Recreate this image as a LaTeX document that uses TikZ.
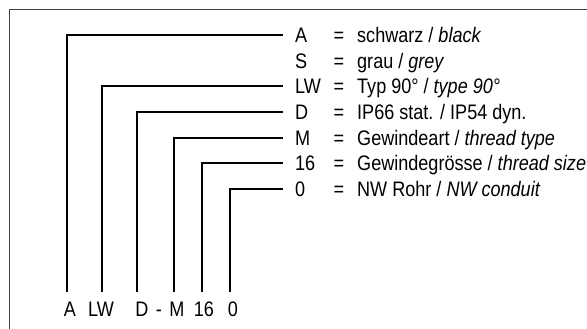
\documentclass[tikz,border=0pt]{standalone}
\usepackage{fontspec}
\setmainfont{Liberation Sans}[FakeStretch=0.86]
\usetikzlibrary{positioning}

\tikzset{
  txt/.style={inner sep=0pt, font=\fontsize{21}{25}\selectfont},
  code/.style={txt, anchor=west, inner xsep=12pt, text height=15pt, text depth=0pt},
  eqsign/.style={txt, anchor=base},
  desc/.style={txt, anchor=base west},
  bottom/.style={txt, anchor=base},
  leader/.style={draw, line width=1.8pt, line join=miter},
}

\begin{document}
\begin{tikzpicture}[x=1pt,y=-1pt]
  \useasboundingbox (0,0) rectangle (587,329);
  % frame
  \draw[line width=1pt, black!75] (9,329) -- (9,10) -- (587,10);

  % code column
  \node[code] (cA)  at (283,35)    {A};
  \node[code] (cS)  at (283,60.7)  {S};
  \node[code] (cLW) at (283,86.3)  {LW};
  \node[code] (cD)  at (283,112)   {D};
  \node[code] (cM)  at (283,137.7) {M};
  \node[code] (c16) at (283,163.3) {16};
  \node[code] (c0)  at (283,189)   {0};

  % equals signs
  \node[eqsign] (eA)  at (339,42.5)  {=};
  \node[eqsign] (eS)  at (339,68.2)  {=};
  \node[eqsign] (eLW) at (339,93.8)  {=};
  \node[eqsign] (eD)  at (339,119.5) {=};
  \node[eqsign] (eM)  at (339,145.2) {=};
  \node[eqsign] (e16) at (339,170.8) {=};
  \node[eqsign] (e0)  at (339,196.5) {=};

  % meanings
  \node[desc] (dA)  at (357,42.5)  {schwarz / \textit{black}};
  \node[desc] (dS)  at (357,68.2)  {grau / \textit{grey}};
  \node[desc] (dLW) at (357,93.8)  {Typ 90° / \textit{type 90°}};
  \node[desc] (dD)  at (357,119.5) {IP66 stat. / IP54 dyn.};
  \node[desc] (dM)  at (357,145.2) {Gewindeart / \textit{thread type}};
  \node[desc] (d16) at (357,170.8) {Gewindegrösse / \textit{thread size}};
  \node[desc] (d0)  at (357,196.5) {NW Rohr / \textit{NW conduit}};

  % type code at the bottom
  \node[bottom] (lA)    at (70,316)  {A};
  \node[bottom] (lLW)   at (101,316) {LW};
  \node[bottom] (lD)    at (142,316) {D};
  \node[bottom] (lDash) at (159,316) {-};
  \node[bottom] (lM)    at (177,316) {M};
  \node[bottom] (l16)   at (204,316) {16};
  \node[bottom] (l0)    at (233,316) {0};

  \coordinate (fA)  at (67,292);
  \coordinate (fLW) at (102,292);
  \coordinate (fD)  at (137,292);
  \coordinate (fM)  at (174,292);
  \coordinate (f16) at (202,292);
  \coordinate (f0)  at (230,292);

  \path[leader]
    (fA)  |- (cA.west)
    (fLW) |- (cLW.west)
    (fD)  |- (cD.west)
    (fM)  |- (cM.west)
    (f16) |- (c16.west)
    (f0)  |- (c0.west);
\end{tikzpicture}
\end{document}
